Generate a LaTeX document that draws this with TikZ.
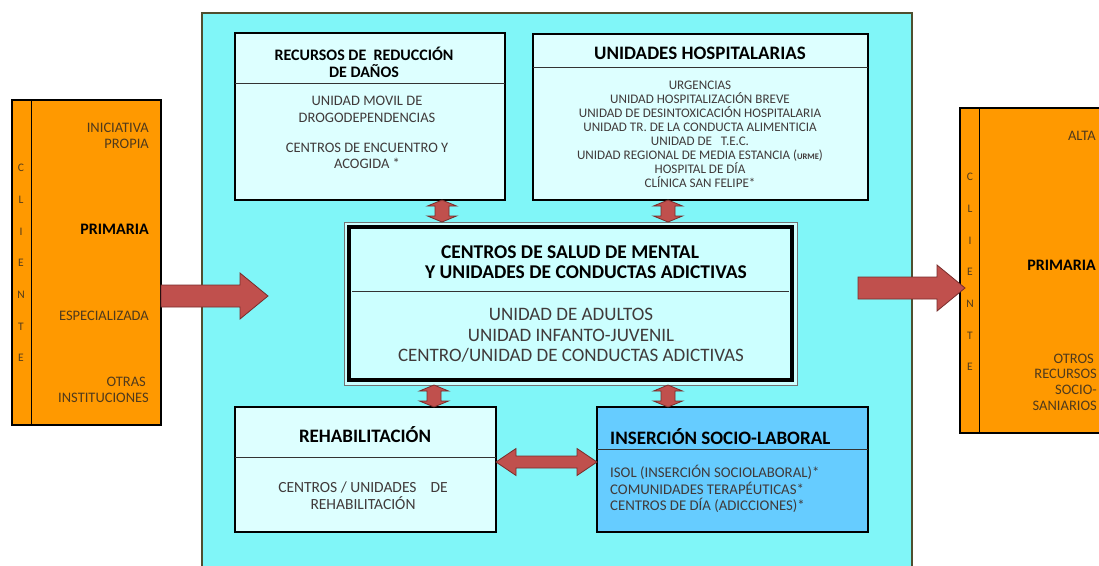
\documentclass[tikz,border=0pt]{standalone}
\usepackage{fontspec}
\setmainfont{Carlito}
\usetikzlibrary{calc}
\definecolor{panelcyan}{RGB}{128,246,248}
\definecolor{panelline}{RGB}{79,79,47}
\definecolor{boxcyan}{RGB}{221,255,255}
\definecolor{cencyan}{RGB}{204,255,255}
\definecolor{insblue}{RGB}{102,204,255}
\definecolor{orangefill}{RGB}{255,153,0}
\definecolor{bodytext}{RGB}{64,58,58}
\definecolor{cliente}{RGB}{80,58,28}
\definecolor{arrowfill}{RGB}{192,80,77}
\definecolor{arrowline}{RGB}{120,45,43}
\tikzset{
  sbox/.style={draw=black, line width=2pt, fill=boxcyan, rectangle, anchor=north west, inner sep=0pt, outer sep=0pt},
  obox/.style={draw=black, line width=1.2pt, fill=orangefill, rectangle, anchor=north west, inner sep=0pt, outer sep=0pt},
  hline/.style={draw=black!80, line width=0.9pt},
  ttl/.style={font=\bfseries\fontsize{#1}{#1}\selectfont, text=black, inner sep=0pt, align=center},
  bdy/.style={font=\fontsize{#1}{#1}\selectfont, text=bodytext, inner sep=0pt, align=center},
  sidetxt/.style={font=\fontsize{14.5}{16}\selectfont, text=cliente, inner sep=0pt, align=right, anchor=east},
  letters/.style={font=\fontsize{11.5}{31.7}\selectfont, text=cliente, inner sep=0pt, align=center},
  blk/.style={fill=arrowfill, draw=arrowline, line width=0.8pt, line join=miter}
}
\newcommand\vdouble[2]{\path[blk] let \p1=(#1), \p2=(#2) in
  (\x1,\y1) -- (\x1+14.5pt,\y1-6pt) -- (\x1+7pt,\y1-6pt) -- (\x1+7pt,\y2+6pt) -- (\x1+14.5pt,\y2+6pt)
  -- (\x1,\y2) -- (\x1-14.5pt,\y2+6pt) -- (\x1-7pt,\y2+6pt) -- (\x1-7pt,\y1-6pt) -- (\x1-14.5pt,\y1-6pt) -- cycle;}
\newcommand\hdouble[2]{\path[blk] let \p1=(#1), \p2=(#2) in
  (\x1,\y1) -- (\x1+20pt,\y1+13.5pt) -- (\x1+20pt,\y1+6pt) -- (\x2-20pt,\y1+6pt) -- (\x2-20pt,\y1+13.5pt)
  -- (\x2,\y1) -- (\x2-20pt,\y1-13.5pt) -- (\x2-20pt,\y1-6pt) -- (\x1+20pt,\y1-6pt) -- (\x1+20pt,\y1-13.5pt) -- cycle;}
\newcommand\hsingle[2]{\path[blk] let \p1=(#1), \p2=(#2) in
  (\x1,\y1+11pt) -- (\x2-28pt,\y1+11pt) -- (\x2-28pt,\y1+23pt) -- (\x2,\y1) -- (\x2-28pt,\y1-23pt)
  -- (\x2-28pt,\y1-11pt) -- (\x1,\y1-11pt) -- cycle;}
\begin{document}
\begin{tikzpicture}[x=1pt, y=-1pt]
\useasboundingbox (0,0) rectangle (1099,565);
\fill[white] (0,0) rectangle (1099,565);
% main panel
\node[draw=panelline, line width=2pt, fill=panelcyan, rectangle, anchor=north west, inner sep=0pt, outer sep=0pt,
      minimum width=710pt, minimum height=580pt] (panel) at (202,13) {};
% left client box
\node[obox, minimum width=149pt, minimum height=325pt] (lbox) at (12,100) {};
\draw[black, line width=1pt] (31,0 |- lbox.north) -- (31,0 |- lbox.south);
\node[letters] (lcli) at (21,263) {C\\L\\I\\E\\N\\T\\E};
\node[sidetxt] (l1) at (149,136) {INICIATIVA\\PROPIA};
\node[sidetxt, font=\bfseries\fontsize{16}{16}\selectfont, text=black] (l2) at (149,229) {PRIMARIA};
\node[sidetxt] (l3) at (149,316) {ESPECIALIZADA};
\node[sidetxt] (l4) at (149,390) {OTRAS\hspace*{3pt}\\INSTITUCIONES};
% right client box
\node[obox, minimum width=160pt, minimum height=325pt] (rbox) at (960,108) {};
\draw[black, line width=1pt] (979,0 |- rbox.north) -- (979,0 |- rbox.south);
\node[letters] (rcli) at (970,272) {C\\L\\I\\E\\N\\T\\E};
\node[sidetxt] (r1) at (1096,136) {ALTA};
\node[sidetxt, font=\bfseries\fontsize{16}{16}\selectfont, text=black] (r2) at (1096,265) {PRIMARIA};
\node[sidetxt, font=\fontsize{14.5}{15.7}\selectfont] (r3) at (1097,382) {OTROS\hspace*{3pt}\\RECURSOS\\SOCIO-\\SANIARIOS};
% box 1: recursos
\node[sbox, minimum width=270pt, minimum height=167pt] (b1) at (235,33) {};
\draw[hline] (b1.west |- 0,83) -- (b1.east |- 0,83);
\node[ttl=16, font=\bfseries\fontsize{16}{17}\selectfont] (b1t) at (364,62.5) {RECURSOS DE~~REDUCCIÓN\\DE DAÑOS};
\node[bdy=14.5, font=\fontsize{14.5}{16.5}\selectfont] (b1b) at (367,132.5) {UNIDAD MOVIL DE\\DROGODEPENDENCIAS\\[13.5pt]CENTROS DE ENCUENTRO Y\\ACOGIDA *};
% box 2: unidades hospitalarias
\node[sbox, minimum width=335pt, minimum height=166pt] (b2) at (533,34) {};
\draw[hline] (b2.west |- 0,67) -- (b2.east |- 0,67);
\node[ttl=19] (b2t) at (700,53) {UNIDADES HOSPITALARIAS};
\node[bdy=13.1, font=\fontsize{13.1}{14}\selectfont] (b2b) at (700,134) {URGENCIAS\\UNIDAD HOSPITALIZACIÓN BREVE\\UNIDAD DE DESINTOXICACIÓN HOSPITALARIA\\UNIDAD TR. DE LA CONDUCTA ALIMENTICIA\\UNIDAD DE~~~T.E.C.\\UNIDAD REGIONAL DE MEDIA ESTANCIA ({\bfseries\fontsize{8.5}{8}\selectfont URME})\\HOSPITAL DE DÍA\\CLÍNICA SAN FELIPE*};
% center box
\node[draw=black!55, line width=0.8pt, fill=cencyan, rectangle, anchor=north west, inner sep=0pt, outer sep=0pt,
      minimum width=453pt, minimum height=163pt] (cen) at (344,222) {};
\draw[black, line width=4pt] ([shift={(5,5)}]cen.north west) rectangle ([shift={(-5,-5)}]cen.south east);
\draw[hline] (352,0 |- 0,291) -- (789,0 |- 0,291);
\node[ttl=19.5, font=\bfseries\fontsize{19.5}{20}\selectfont, align=center] (cent) at (570,262) {CENTROS DE SALUD DE MENTAL\\\hspace*{32pt}Y UNIDADES DE CONDUCTAS ADICTIVAS};
\node[bdy=19, font=\fontsize{19}{20.5}\selectfont] (cenb) at (571,335.5) {UNIDAD DE ADULTOS\\UNIDAD INFANTO-JUVENIL\\CENTRO/UNIDAD DE CONDUCTAS ADICTIVAS};
% rehabilitacion
\node[sbox, minimum width=261pt, minimum height=125pt] (reh) at (235,407) {};
\draw[hline] (reh.west |- 0,457) -- (reh.east |- 0,457);
\node[ttl=19] (reht) at (365,435) {REHABILITACIÓN};
\node[bdy=15.5, font=\fontsize{15.5}{17}\selectfont] (rehb) at (363,495.5) {CENTROS / UNIDADES~~~~DE\\REHABILITACIÓN};
% insercion
\node[sbox, fill=insblue, line width=1.6pt, minimum width=271pt, minimum height=125pt] (ins) at (597,407) {};
\draw[hline] (ins.west |- 0,449) -- (ins.east |- 0,449);
\node[ttl=19, anchor=west] (inst) at (610,437) {INSERCIÓN SOCIO-LABORAL};
\node[bdy=14.8, font=\fontsize{14.8}{16.5}\selectfont, align=left, anchor=west] (insb) at (610,489) {ISOL (INSERCIÓN SOCIOLABORAL)*\\COMUNIDADES TERAPÉUTICAS*\\CENTROS DE DÍA (ADICCIONES)*};
% connectors
\vdouble{442,0 |- b1.south}{442,0 |- cen.north}
\vdouble{668,0 |- b2.south}{668,0 |- cen.north}
\vdouble{434,0 |- cen.south}{434,0 |- reh.north}
\vdouble{668,0 |- cen.south}{668,0 |- ins.north}
\hdouble{reh.east |- 0,462}{ins.west |- 0,462}
\coordinate (inTip) at (268,296);
\hsingle{lbox.east |- inTip}{inTip}
\coordinate (outStart) at (858,288);
\coordinate (outTip) at (965,288);
\hsingle{outStart}{outTip}
\end{tikzpicture}
\end{document}
